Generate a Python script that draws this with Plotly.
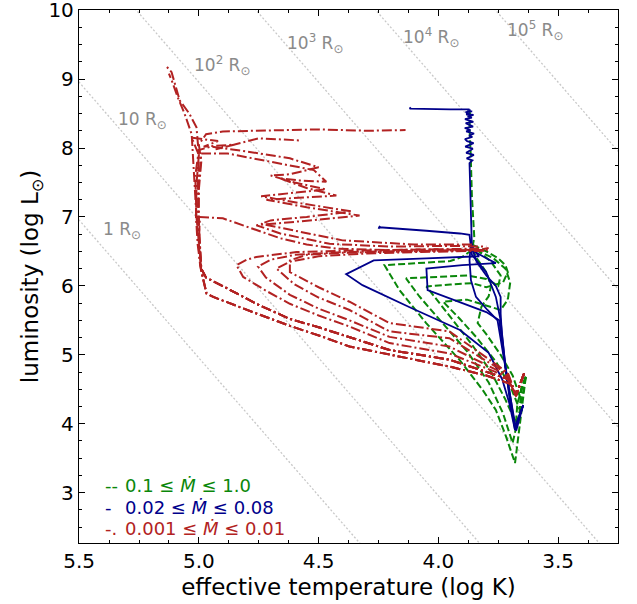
import plotly.graph_objects as go

# ---------------- data ----------------
# constant-radius reference lines: endpoints (log Teff, log L)
radius_labels = ["1 R<sub>⊙</sub>", "10 R<sub>⊙</sub>", "10<sup>2</sup> R<sub>⊙</sub>",
                 "10<sup>3</sup> R<sub>⊙</sub>", "10<sup>4</sup> R<sub>⊙</sub>", "10<sup>5</sup> R<sub>⊙</sub>"]
radius_line_T = [[5.6, 4.3], [5.6, 3.8], [5.3, 3.3], [4.8, 3.2], [4.3, 3.2], [3.8, 3.2]]
radius_line_L = [[7.355, 2.155], [9.355, 2.155], [10.155, 2.155], [10.155, 3.755], [10.155, 5.755], [10.155, 7.755]]
radius_label_T = [5.323, 5.235, 4.902, 4.515, 4.031, 3.598]
radius_label_L = [6.81, 8.40, 9.196, 9.515, 9.60, 9.70]

# green: 0.1 <= Mdot <= 1.0
green_T = [
    [3.635, 3.66, 3.68, 3.718, 3.76, 3.815, 3.9125, 4.051, 4.1625, 4.225, 4.10, 3.95, 3.90, 3.86, 3.85, 3.86, 3.865, 3.87, 3.868, 3.872],
    [3.635, 3.665, 3.69, 3.73, 3.79, 3.88, 3.98, 4.08, 4.135, 4.0, 3.88, 3.80, 3.75, 3.74, 3.78, 3.83, 3.86],
    [3.635, 3.67, 3.676, 3.72, 3.78, 3.86, 3.95, 4.05, 3.95, 3.86, 3.80, 3.73, 3.71, 3.72, 3.75, 3.80, 3.86],
    [3.635, 3.655, 3.66, 3.70, 3.76, 3.84, 3.91, 3.98, 3.88, 3.80, 3.74, 3.71, 3.70, 3.72, 3.77, 3.83, 3.86],
    [3.635, 3.65, 3.66, 3.69, 3.74, 3.80, 3.836, 3.82, 3.79, 3.78, 3.80, 3.84, 3.86],
]
green_L = [
    [4.68, 4.0, 3.43, 3.82, 4.20, 4.49, 4.93, 5.46, 5.94, 6.30, 6.33, 6.36, 6.42, 6.52, 6.7, 7.3, 7.9, 8.3, 8.5, 8.56],
    [4.68, 4.1, 3.72, 4.15, 4.60, 5.05, 5.45, 5.85, 6.11, 6.13, 6.15, 6.10, 6.0, 6.15, 6.35, 6.5, 6.6],
    [4.68, 4.3, 4.01, 4.35, 4.75, 5.15, 5.55, 5.99, 6.02, 6.04, 5.98, 6.05, 6.2, 6.3, 6.4, 6.5, 6.6],
    [4.68, 4.5, 4.20, 4.55, 4.90, 5.25, 5.52, 5.77, 5.80, 5.72, 5.65, 5.80, 6.05, 6.25, 6.40, 6.50, 6.55],
    [4.68, 4.55, 4.40, 4.70, 5.00, 5.30, 5.46, 5.70, 5.85, 6.0, 6.2, 6.4, 6.55],
]

# blue: 0.02 <= Mdot <= 0.08
blue_T = [
    [3.646, 3.68, 3.704, 3.733, 3.79, 3.91, 4.12, 4.317, 4.385, 4.27, 4.05, 3.83, 3.86, 3.865, 3.868, 3.870,
     3.858, 3.882, 3.862, 3.852, 3.884, 3.870, 3.856, 3.888, 3.864, 3.853, 3.880, 3.889, 3.858, 3.872, 3.851,
     3.884, 3.866, 3.890, 3.855, 3.876, 3.886, 3.854, 3.868, 3.889, 3.860, 3.878, 3.853, 3.884, 3.870, 3.887,
     3.859, 3.876, 3.866, 3.880, 3.870, 3.95, 4.05, 4.12, 4.115],
    [3.646, 3.68, 3.70, 3.72, 3.74, 3.76, 3.80, 3.86, 3.87, 3.91, 4.05, 4.246, 4.25, 4.244],
    [3.646, 3.68, 3.70, 3.72, 3.746, 3.80, 3.92, 4.045, 4.05, 3.90, 3.76, 3.80, 3.85, 3.86],
    [3.646, 3.68, 3.70, 3.72, 3.753, 3.795, 3.843, 3.864, 3.87, 3.865],
    [3.646, 3.675, 3.70, 3.72, 3.735, 3.74, 3.74, 3.76, 3.80, 3.84, 3.86],
]
blue_L = [
    [4.27, 3.91, 4.30, 4.64, 5.03, 5.36, 5.69, 6.01, 6.17, 6.37, 6.40, 6.43, 6.55, 7.2, 7.6, 7.78,
     7.82, 7.85, 7.88, 7.90, 7.93, 7.96, 7.99, 8.02, 8.05, 8.07, 8.10, 8.13, 8.16, 8.18, 8.21,
     8.24, 8.26, 8.29, 8.31, 8.34, 8.36, 8.38, 8.40, 8.42, 8.44, 8.46, 8.48, 8.49, 8.51, 8.52,
     8.53, 8.54, 8.55, 8.555, 8.56, 8.56, 8.56, 8.57, 8.59],
    [4.27, 3.91, 4.35, 4.83, 5.5, 5.84, 6.2, 6.45, 6.74, 6.76, 6.80, 6.85, 6.83, 6.87],
    [4.27, 3.95, 4.30, 4.85, 5.50, 5.62, 5.78, 5.94, 6.25, 6.30, 6.33, 6.40, 6.5, 6.6],
    [4.27, 3.95, 4.40, 4.83, 5.50, 5.65, 5.84, 6.08, 6.37, 6.6],
    [4.27, 3.90, 4.40, 4.83, 5.30, 5.60, 5.84, 6.00, 6.15, 6.35, 6.55],
]

# red: 0.001 <= Mdot <= 0.01
red_T = [
    # lower curve "a" tracks
    [3.642, 3.676, 3.70, 3.80, 3.954, 4.08, 4.204, 4.371, 4.482, 4.62, 4.76, 4.94, 4.968, 4.99, 5.005, 5.012, 5.01, 5.0, 5.01, 5.04, 5.08, 5.10, 5.114, 5.137],
    [3.642, 3.676, 3.70, 3.80, 3.954, 4.08, 4.204, 4.371, 4.482, 4.62, 4.76, 4.94, 4.968, 4.99, 5.0, 4.996, 4.90, 4.80, 4.66, 4.55, 4.426, 4.2, 4.0, 3.83, 3.79],
    [3.642, 3.676, 3.70, 3.80, 3.954, 4.08, 4.204, 4.371, 4.482, 4.62, 4.76, 4.94, 4.968, 4.995, 5.01, 5.02, 5.03, 5.06, 5.09, 5.11, 5.125],
    # lower curve "b" tracks
    [3.642, 3.676, 3.71, 3.954, 4.204, 4.371, 4.5, 4.62, 4.76, 4.88, 4.97, 4.99, 5.0, 5.0, 4.99, 5.0, 4.97, 4.9, 4.7, 4.5, 4.3, 4.137],
    [3.642, 3.676, 3.71, 3.954, 4.204, 4.371, 4.5, 4.62, 4.76, 4.88, 4.97, 4.99, 5.005, 5.0, 4.99, 4.88, 4.70, 4.52, 4.468, 4.58, 4.6625,
     4.55, 4.426, 4.60, 4.718, 4.55, 4.329, 4.5, 4.65, 4.76, 4.66, 4.454, 4.2, 3.95, 3.80],
    [3.642, 3.676, 3.71, 3.954, 4.204, 4.371, 4.5, 4.62, 4.76, 4.88, 4.97, 4.99, 5.0, 5.005, 5.0, 5.03, 4.92, 4.98, 4.85, 4.93, 4.75, 4.579],
    [3.642, 3.676, 3.71, 3.954, 4.204, 4.371, 4.5, 4.62, 4.76, 4.88, 4.97, 4.99, 5.01, 5.015, 5.0, 4.95, 4.80, 4.62, 4.50, 4.62, 4.70,
     4.60, 4.47, 4.66, 4.74, 4.58, 4.36, 4.55, 4.70, 4.74, 4.60, 4.40, 4.1, 3.85],
    # tip tracks "c".."f"
    [3.642, 3.676, 3.71, 3.954, 4.204, 4.371, 4.5, 4.62, 4.72, 4.815, 4.843, 4.80, 4.76, 4.66, 4.593, 4.4, 4.2, 4.0, 3.83],
    [3.642, 3.676, 3.71, 3.954, 4.204, 4.371, 4.5, 4.62, 4.72, 4.753, 4.70, 4.6, 4.4, 4.2, 4.0, 3.82],
    [3.642, 3.676, 3.71, 3.954, 4.204, 4.371, 4.5, 4.6, 4.676, 4.62, 4.5, 4.3, 4.1, 3.9, 3.80],
    [3.642, 3.676, 3.71, 3.954, 4.204, 4.371, 4.5, 4.62, 4.62, 4.55, 4.4, 4.2, 4.0, 3.79],
]
red_L = [
    [4.73, 4.40, 4.58, 4.70, 4.83, 4.92, 5.00, 5.12, 5.26, 5.42, 5.60, 5.84, 5.89, 6.20, 6.6, 7.0, 7.48, 7.9, 8.3, 8.5, 8.69, 8.93, 9.10, 9.19],
    [4.73, 4.40, 4.58, 4.70, 4.83, 4.92, 5.00, 5.12, 5.26, 5.42, 5.60, 5.84, 5.89, 6.23, 6.6, 7.0, 6.98, 6.86, 6.69, 6.60, 6.54, 6.52, 6.53, 6.52, 6.55],
    [4.73, 4.40, 4.58, 4.70, 4.83, 4.92, 5.00, 5.12, 5.26, 5.42, 5.60, 5.84, 5.89, 6.3, 7.0, 7.7, 8.2, 8.5, 8.75, 8.95, 9.08],
    [4.73, 4.42, 4.65, 4.93, 5.07, 5.26, 5.40, 5.52, 5.74, 5.96, 6.12, 6.25, 6.8, 7.4, 7.8, 8.05, 8.2, 8.24, 8.25, 8.27, 8.25, 8.26],
    [4.73, 4.42, 4.65, 4.93, 5.07, 5.26, 5.40, 5.52, 5.74, 5.96, 6.12, 6.25, 7.0, 7.5, 7.92, 7.92, 7.80, 7.68, 7.51, 7.53, 7.56,
     7.42, 7.31, 7.28, 7.25, 7.14, 7.02, 6.96, 6.92, 6.88, 6.76, 6.61, 6.57, 6.58, 6.57],
    [4.73, 4.42, 4.65, 4.93, 5.07, 5.26, 5.40, 5.52, 5.74, 5.96, 6.12, 6.25, 6.9, 7.5, 7.9, 8.15, 8.10, 8.02, 8.05, 7.98, 8.14, 8.11],
    [4.73, 4.42, 4.65, 4.93, 5.07, 5.26, 5.40, 5.52, 5.74, 5.96, 6.12, 6.25, 7.0, 7.6, 7.97, 8.02, 7.95, 7.85, 7.72, 7.62, 7.60,
     7.50, 7.40, 7.33, 7.30, 7.20, 7.08, 7.00, 6.95, 6.90, 6.80, 6.66, 6.60, 6.60],
    [4.73, 4.42, 4.68, 5.02, 5.17, 5.41, 5.57, 5.74, 5.93, 6.13, 6.30, 6.38, 6.42, 6.46, 6.49, 6.51, 6.52, 6.53, 6.54],
    [4.73, 4.42, 4.70, 5.12, 5.26, 5.50, 5.67, 5.87, 6.12, 6.28, 6.38, 6.45, 6.49, 6.50, 6.51, 6.52],
    [4.73, 4.42, 4.72, 5.24, 5.34, 5.65, 5.83, 6.02, 6.25, 6.35, 6.43, 6.47, 6.49, 6.50, 6.51],
    [4.73, 4.42, 4.74, 5.34, 5.46, 5.77, 5.98, 6.20, 6.37, 6.45, 6.48, 6.50, 6.51, 6.52],
]

legend_marks = ["--", "-", "-."]
legend_texts = ["0.1 ≤ <i>Ṁ</i> ≤ 1.0", "0.02 ≤ <i>Ṁ</i> ≤ 0.08", "0.001 ≤ <i>Ṁ</i> ≤ 0.01"]

# ---------------- styles ----------------
FONT = "DejaVu Sans"
C_GREEN = "#0a870a"
C_BLUE = "#00008b"
C_RED = "#b22222"
C_GRAY = "#8a8a8a"

fig = go.Figure()

for T, L in zip(radius_line_T, radius_line_L):
    fig.add_trace(go.Scatter(x=T, y=L, mode="lines",
                             line=dict(color="#c8c8c8", width=1.3, dash="2px,2px"),
                             hoverinfo="skip", showlegend=False))

for T, L in zip(green_T, green_L):
    fig.add_trace(go.Scatter(x=T, y=L, mode="lines",
                             line=dict(color=C_GREEN, width=2, dash="7px,3px"), showlegend=False))
for T, L in zip(blue_T, blue_L):
    fig.add_trace(go.Scatter(x=T, y=L, mode="lines",
                             line=dict(color=C_BLUE, width=1.8), showlegend=False))
for T, L in zip(red_T, red_L):
    fig.add_trace(go.Scatter(x=T, y=L, mode="lines",
                             line=dict(color=C_RED, width=2, dash="10px,3px,2px,3px"), showlegend=False))

for lab, x, y in zip(radius_labels, radius_label_T, radius_label_L):
    fig.add_annotation(x=x, y=y, text=lab, showarrow=False, xanchor="center", yanchor="middle",
                       font=dict(family=FONT, size=17, color=C_GRAY))

leg_colors = [C_GREEN, C_BLUE, C_RED]
leg_y = [3.108, 2.79, 2.478]
for mark, txt, col, y in zip(legend_marks, legend_texts, leg_colors, leg_y):
    fig.add_annotation(x=5.401, y=y, text=mark, showarrow=False, xanchor="left", yanchor="middle",
                       font=dict(family=FONT, size=18, color=col))
    fig.add_annotation(x=5.315, y=y, text=txt, showarrow=False, xanchor="left", yanchor="middle",
                       font=dict(family=FONT, size=18, color=col))

axis_common = dict(showline=True, linecolor="black", linewidth=1.3, mirror="allticks",
                   ticks="inside", ticklen=6, tickwidth=1.2, tickcolor="black",
                   showgrid=False, zeroline=False, ticklabeloverflow="allow", automargin=False,
                   tickfont=dict(family=FONT, size=20, color="black"))

fig.update_xaxes(range=[5.5005, 3.25], dtick=0.5, tick0=3.5, tickformat=".1f",
                 minor=dict(ticks="inside", ticklen=3, dtick=0.125, tick0=3.5, tickcolor="black", tickwidth=1),
                 title=dict(text="effective temperature (log K)", font=dict(family=FONT, size=23, color="black"), standoff=6),
                 **axis_common)
fig.update_yaxes(range=[2.27, 10.002], dtick=1, tick0=0,
                 minor=dict(ticks="inside", ticklen=3, dtick=0.25, tick0=0, tickcolor="black", tickwidth=1),
                 title=dict(text="luminosity (log L<sub>⊙</sub>)", font=dict(family=FONT, size=23, color="black"), standoff=3),
                 **axis_common)

fig.update_layout(width=637, height=604, margin=dict(l=79, r=19, t=10, b=61, autoexpand=False),
                  plot_bgcolor="white", paper_bgcolor="white", showlegend=False,
                  font=dict(family=FONT))

fig.write_html("out.html")
